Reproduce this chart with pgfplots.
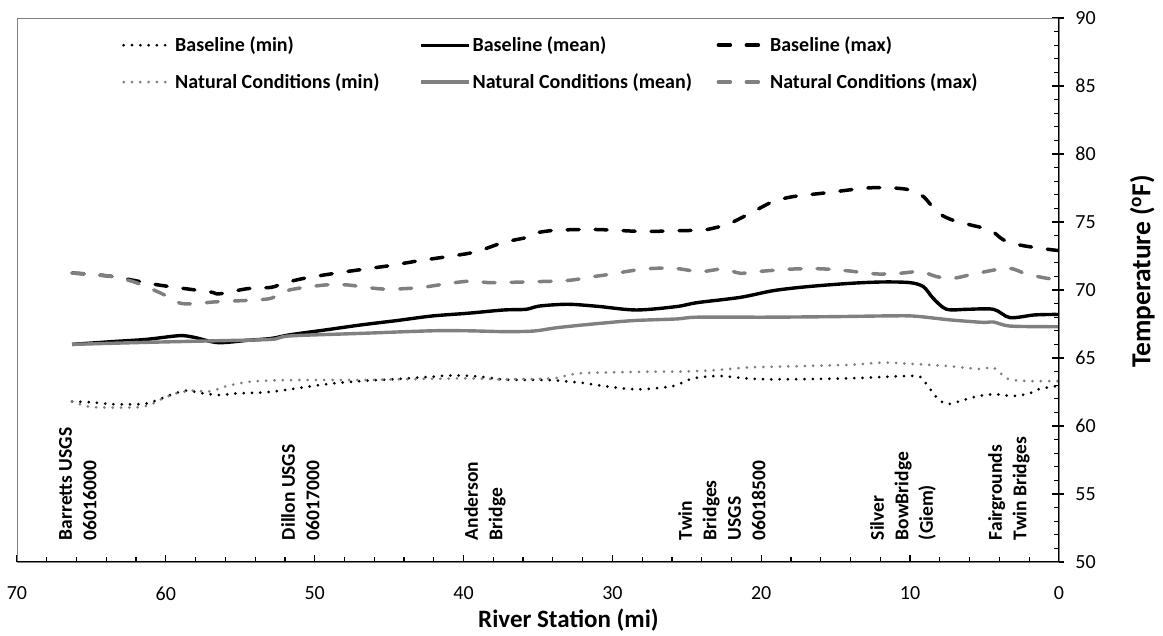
\documentclass[border=0pt]{standalone}
\usepackage{fontspec}
\setmainfont{Carlito}
\usepackage{pgfplots}
\pgfplotsset{compat=1.18}
\definecolor{ncgray}{RGB}{128,128,128}
\begin{document}
\begin{tikzpicture}
\useasboundingbox (0,0) rectangle (1163pt,636pt);
\begin{axis}[
  at={(17pt,74pt)}, anchor=south west,
  scale only axis, width=1042pt, height=544pt,
  xmin=0, xmax=70, ymin=50, ymax=90,
  x dir=reverse,
  xtick={0,10,...,70}, minor x tick num=4,
  ytick={50,55,...,90}, minor y tick num=4,
  xtick pos=left, ytick pos=right,
  yticklabel pos=right,
  tick align=inside,
  major tick length=7pt, minor tick length=5pt,
  tick style={black, line width=1.2pt},
  extra y ticks={50,55,...,90}, extra y tick labels={},
  extra y tick style={tick align=outside, major tick length=5pt},
  axis line style={ncgray, line width=0.8pt},
  /pgf/number format/assume math mode=true,
  tick label style={font=\fontsize{20}{24}\selectfont},
  xticklabel style={yshift=-21pt},
  yticklabel style={xshift=13pt},
  xlabel={River Station (mi)},
  xlabel style={font=\bfseries\fontsize{25}{29}\selectfont, at={(axis description cs:0.5293,-0.1195)}, anchor=base},
  ylabel={Temperature (\textsuperscript{o}F)},
  ylabel style={font=\bfseries\fontsize{27.5}{31}\selectfont, at={(axis description cs:1.0801,0.534)}, anchor=center, rotate=0},
  legend columns=3,
  legend style={at={(axis description cs:0.1008,0.969)}, anchor=north west, draw=none, fill=none, inner sep=0pt,
    font=\bfseries\fontsize{20}{23}\selectfont,
    /tikz/every even column/.append style={column sep=0pt},
    row sep=16.5pt, cells={anchor=west}},
  legend image code/.code={\draw[#1] (0pt,0pt) -- (48pt,0pt);},
  every axis plot/.append style={smooth, tension=0.5},
]
% Baseline (min)
\addplot[black, line width=3pt, line cap=round, dash pattern=on 0pt off 8.3pt] coordinates {
(66.3,61.8) (65.1,61.75) (63.5,61.6) (62.0,61.6) (61.2,61.67) (60.6,61.9) (59.7,62.28) (58.6,62.6) (57.5,62.4) (56.4,62.28) (55.2,62.4) (52.9,62.52) (49.3,63.06) (46.9,63.3) (44.5,63.45) (42.1,63.63) (40.6,63.72) (38.9,63.63) (37.1,63.4) (34.4,63.38) (32.2,63.19) (29.9,62.84) (28.15,62.7) (25.9,62.94) (24.6,63.5) (22.8,63.68) (21.0,63.5) (19.0,63.43) (14.3,63.5) (10.0,63.68) (9.3,63.6) (8.7,62.77) (8.0,61.86) (7.4,61.62) (6.45,61.9) (5.3,62.23) (4.2,62.33) (3.1,62.2) (1.95,62.4) (1.4,62.7) (0,62.95)
};
\addlegendentry{\makebox[242pt][l]{Baseline (min)}}
% Baseline (mean)
\addplot[black, line width=3.4pt] coordinates {
(66.3,66.0) (63.65,66.2) (61.3,66.37) (59.1,66.64) (58.1,66.52) (56.5,66.13) (54.5,66.3) (52.9,66.44) (51.7,66.7) (49.3,67.06) (46.9,67.43) (44.5,67.75) (42.1,68.09) (39.7,68.29) (37.3,68.53) (35.8,68.58) (34.9,68.82) (33.0,68.95) (31.0,68.8) (28.4,68.53) (25.7,68.78) (24.3,69.07) (21.4,69.46) (19.2,69.95) (16.95,70.24) (14.0,70.49) (11.8,70.59) (10.0,70.54) (9.1,70.24) (8.45,69.39) (7.55,68.58) (6.2,68.58) (4.4,68.58) (3.3,67.97) (1.7,68.16) (0.6,68.2) (0,68.2)
};
\addlegendentry{\makebox[242pt][l]{Baseline (mean)}}
% Baseline (max)
\addplot[black, line width=3.5pt, line cap=round, dash pattern=on 12pt off 16pt] coordinates {
(66.3,71.25) (63.65,71.0) (60.5,70.37) (57.1,69.87) (56.4,69.72) (54.5,70.1) (52.9,70.2) (52.1,70.5) (50.7,70.86) (48.8,71.2) (46.9,71.5) (44.9,71.8) (43.0,72.15) (41.1,72.45) (39.2,72.8) (37.3,73.5) (35.6,73.9) (35.1,74.2) (33.7,74.4) (31.3,74.45) (29.95,74.4) (27.9,74.3) (25.9,74.35) (24.1,74.4) (23.4,74.5) (22.1,74.9) (20.3,75.9) (19.2,76.5) (17.9,76.86) (15.6,77.15) (12.9,77.5) (11.15,77.5) (10.0,77.35) (9.1,76.86) (8.2,75.76) (7.3,75.2) (6.0,74.8) (4.6,74.4) (3.75,73.7) (2.6,73.3) (0.8,73.0) (0,72.9)
};
\addlegendentry{Baseline (max)}
% Natural Conditions (min)
\addplot[ncgray, line width=3pt, line cap=round, dash pattern=on 0pt off 8.3pt] coordinates {
(66.3,61.8) (65.3,61.45) (64.5,61.37) (62.0,61.37) (61.1,61.54) (60.2,62.03) (59.3,62.4) (58.2,62.6) (57.0,62.55) (55.9,62.94) (54.3,63.26) (51.7,63.38) (46.9,63.38) (44.5,63.43) (39.7,63.5) (37.3,63.43) (34.0,63.5) (32.2,63.87) (27.7,63.99) (25.5,64.0) (23.2,64.1) (21.0,64.3) (19.0,64.36) (14.3,64.49) (11.8,64.66) (9.8,64.56) (7.55,64.41) (5.3,64.19) (4.4,64.3) (3.5,63.5) (2.6,63.33) (1.4,63.3) (0,63.3)
};
\addlegendentry{\makebox[242pt][l]{Natural Conditions (min)}}
% Natural Conditions (mean)
\addplot[ncgray, line width=3.4pt] coordinates {
(66.3,66.0) (61.3,66.15) (56.5,66.27) (52.9,66.37) (51.7,66.62) (46.9,66.81) (42.1,67.0) (39.7,67.0) (37.3,66.94) (35.3,66.98) (33.7,67.23) (31.3,67.5) (28.6,67.75) (25.7,67.87) (24.3,68.0) (19.6,68.0) (15.2,68.04) (11.15,68.1) (9.6,68.07) (7.3,67.8) (5.1,67.62) (4.4,67.65) (3.3,67.35) (0.6,67.3) (0,67.3)
};
\addlegendentry{\makebox[242pt][l]{Natural Conditions (mean)}}
% Natural Conditions (max)
\addplot[ncgray, line width=3.5pt, line cap=round, dash pattern=on 12pt off 16pt] coordinates {
(66.3,71.25) (63.65,71.0) (62.0,70.54) (60.3,69.75) (58.9,69.0) (56.5,69.14) (54.1,69.26) (52.9,69.4) (51.7,70.0) (49.3,70.37) (47.8,70.37) (45.4,70.07) (43.0,70.17) (40.9,70.5) (39.4,70.66) (38.2,70.54) (35.6,70.6) (33.0,70.7) (31.3,70.98) (30.2,71.15) (27.9,71.54) (25.9,71.6) (24.1,71.35) (22.6,71.54) (21.4,71.23) (20.3,71.35) (17.9,71.54) (16.05,71.56) (14.26,71.42) (12.25,71.18) (10.7,71.23) (9.3,71.35) (8.2,70.98) (7.1,70.86) (5.5,71.23) (3.4,71.6) (2.2,71.18) (0.8,70.86) (0,70.8)
};
\addlegendentry{Natural Conditions (max)}
% axis lines bottom and right
\draw[black, line width=1.5pt] (axis description cs:0,0) -- (axis description cs:1,0) -- (axis description cs:1,1);
% station labels
\begin{scope}[every node/.style={rotate=90, anchor=north west, align=left, inner sep=0pt, font=\bfseries\fontsize{19.5}{24.5}\selectfont}]
\node at (axis cs:67.18,51.6) {Barretts USGS\\06016000};
\node at (axis cs:52.26,51.6) {Dillon USGS\\06017000};
\node at (axis cs:39.97,51.6) {Anderson\\Bridge};
\node at (axis cs:25.6,51.6) {Twin\\Bridges\\USGS\\06018500};
\node at (axis cs:12.7,51.6) {Silver\\BowBridge\\(Giem)};
\node at (axis cs:4.77,51.6) {Fairgrounds\\Twin Bridges};
\end{scope}
\end{axis}
\end{tikzpicture}
\end{document}
